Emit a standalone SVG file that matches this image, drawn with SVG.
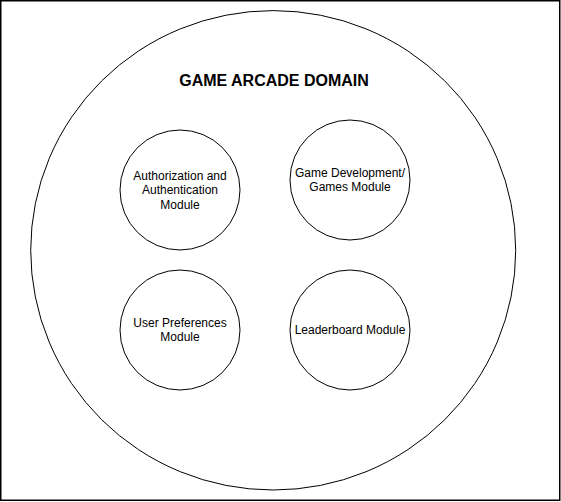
<svg xmlns="http://www.w3.org/2000/svg" width="561" height="502" viewBox="0 0 561 502">
<style>
.shape{fill:#ffffff;stroke:#000000;stroke-width:1}
.lbl{font-family:"Liberation Sans",Arial,Helvetica,sans-serif;font-size:12px;fill:#000000;text-anchor:middle}
.title{font-family:"Liberation Sans",Arial,Helvetica,sans-serif;font-size:16px;font-weight:bold;fill:#000000;text-anchor:middle}
</style>
<rect x="0" y="0" width="561" height="502" fill="#ffffff"/>
<rect x="0.75" y="0.75" width="559" height="499.5" fill="none" stroke="#000000" stroke-width="1.5"/>
<g id="domain">
<ellipse class="shape" cx="273.2" cy="250.3" rx="242.5" ry="239.7"/>
<text class="title" x="274" y="85.5">GAME ARCADE DOMAIN</text>
</g>
<g id="auth">
<circle class="shape" cx="180" cy="190" r="60"/>
<text class="lbl" x="180" y="180">Authorization and</text>
<text class="lbl" x="180" y="194.3">Authentication</text>
<text class="lbl" x="180" y="208.6">Module</text>
</g>
<g id="games">
<circle class="shape" cx="350" cy="180" r="60"/>
<text class="lbl" x="350" y="176.6">Game Development/</text>
<text class="lbl" x="350" y="191">Games Module</text>
</g>
<g id="prefs">
<circle class="shape" cx="180" cy="330" r="60"/>
<text class="lbl" x="180" y="326.8">User Preferences</text>
<text class="lbl" x="180" y="341.2">Module</text>
</g>
<g id="leaderboard">
<circle class="shape" cx="350" cy="330" r="60"/>
<text class="lbl" x="350" y="334.2">Leaderboard Module</text>
</g>
<g id="connectors"></g>
</svg>
